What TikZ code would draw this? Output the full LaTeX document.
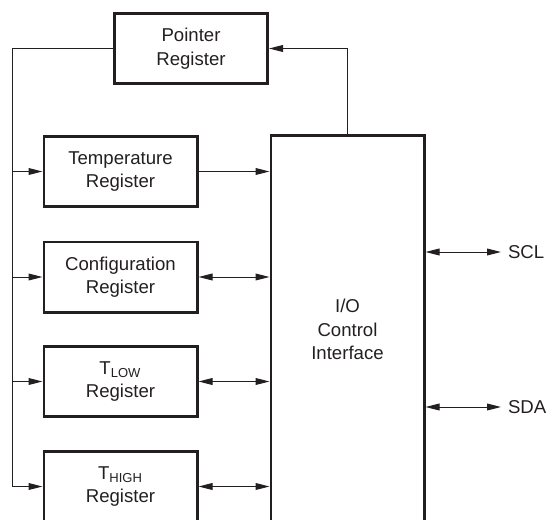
\documentclass[tikz,border=0pt]{standalone}
\usepackage{fontspec}
\setmainfont{Liberation Sans}
\usetikzlibrary{arrows.meta}
\definecolor{ink}{HTML}{231F20}
\tikzset{
  reg/.style={draw=ink, line width=1.3pt, minimum width=76.7pt, minimum height=35.2pt, align=center, inner sep=0pt},
  wire/.style={draw=ink, line width=0.5pt},
  >={Triangle[length=7pt,width=3.4pt]}
}
\begin{document}
\begin{tikzpicture}[x=0.5pt,y=-0.5pt]\tikzstyle{every node}=[font=\fontsize{9.3}{11.8}\selectfont, text=ink]
\clip (0,0) rectangle (547,520);
% pointer
  \node[reg] (ptr) at (191,48.5) {Pointer\\Register};
% registers
  \node[reg] (temp) at (120.5,171.5) {Temperature\\Register};
  \node[reg] (cfg) at (120.5,277) {Configuration\\Register};
  \node[reg] (tlow) at (120.5,381.5) {T\textsubscript{LOW}\\Register};
  \node[reg] (thigh) at (120.5,486.5) {T\textsubscript{HIGH}\\Register};
% I/O control
  \node[reg, anchor=north, minimum height=194.3pt] (io) at (347.5,134) {I/O\\Control\\Interface};
% bus pins
  \node[anchor=west] (scl) at (501,252) {SCL};
  \node[anchor=west] (sda) at (501,407) {SDA};
  \coordinate (bus) at (12,0);
%%%%%%%%%%%%%%%%
\draw[wire] (ptr.west) -- (ptr.west -| bus) -- (thigh.west -| bus);
\foreach \r in {temp,cfg,tlow,thigh}
  \draw[wire,->] (\r.west -| bus) -- (\r.west);
\draw[wire,->] (io.north) |- (ptr.east);
\draw[wire,->] (temp.east) -- (temp.east -| io.west);
\foreach \r in {cfg,tlow,thigh}
  \draw[wire,<->] (\r.east) -- (\r.east -| io.west);
\draw[wire,<->] (scl.west -| io.east) -- (scl.west);
\draw[wire,<->] (sda.west -| io.east) -- (sda.west);
\end{tikzpicture}
\end{document}
